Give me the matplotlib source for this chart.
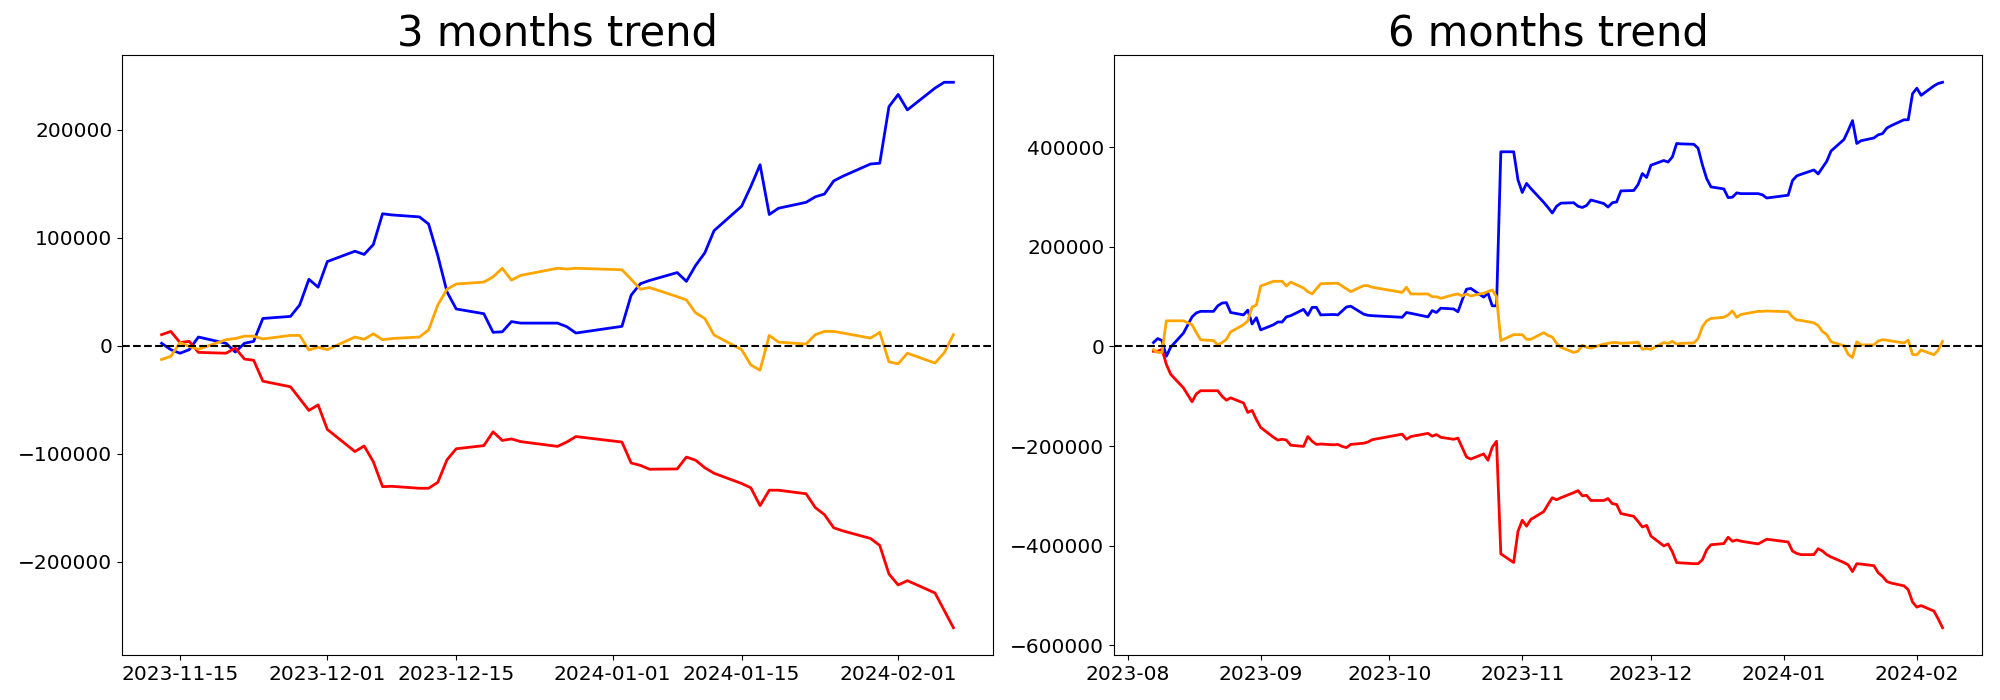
import matplotlib
matplotlib.use("Agg")
import matplotlib.pyplot as plt
import pandas as pd

# Trading calendar (KRX holidays excluded)
holidays = ['2023-08-15', '2023-09-28', '2023-09-29', '2023-10-02', '2023-10-03',
            '2023-10-09', '2023-12-25', '2023-12-29', '2024-01-01']
dates_6m = pd.bdate_range('2023-08-07', '2024-02-07', freq='C', holidays=holidays)
dates_3m = dates_6m[dates_6m >= pd.Timestamp('2023-11-13')]

# ---- 3 months trend (cumulative) ----
blue_3m = [2200, -3700, -7000, -3700, 8000,
           2200, -5900, 2200, 4000, 25200,
           27100, 37700, 61500, 54200, 77900,
           87500, 84500, 93700, 122200, 121100,
           119300, 112700, 83400, 49800, 34000,
           29600, 12400, 12800, 22300, 20900,
           20900, 17600, 11700,
           17900, 46800, 57400, 60400,
           67700, 59600, 74300, 86000, 106500,
           129200, 147500, 167600, 121500, 127300,
           132800, 137900, 140500, 152600, 157000,
           168300, 169000, 221400, 232700, 218400,
           238600, 244000, 244000]
red_3m = [10200, 13200, 2900, 4000, -6200,
          -7000, -2200, -12400, -13500, -32900,
          -38100, -49000, -60000, -54900, -77600,
          -98100, -92900, -107600, -130600, -130300,
          -132100, -132100, -126600, -105700, -95500,
          -92600, -79800, -87800, -86400, -88900,
          -93300, -89300, -84200,
          -89300, -108700, -110900, -114500,
          -114200, -103200, -106100, -113100, -118200,
          -127700, -131700, -148200, -133900, -133900,
          -137200, -150000, -156600, -168700, -171600,
          -178600, -185100, -211500, -221700, -217700,
          -229100, -245200, -261300]
orange_3m = [-12800, -9900, 2900, -700, -3300,
             5500, 6600, 8800, 8800, 6200,
             9500, 9500, -4000, -1500, -3700,
             8000, 5900, 11000, 5500, 6600,
             8000, 14600, 37700, 52300, 57100,
             58900, 63700, 71700, 60700, 65100,
             71700, 71000, 71700,
             70300, 61500, 52300, 53800,
             45400, 42400, 30400, 25200, 9900,
             -3700, -17900, -22700, 9500, 3300,
             1500, 10200, 13200, 13200, 11700,
             7000, 12400, -15000, -16800, -7000,
             -16100, -6600, 10200]

# ---- 6 months trend (cumulative) ----
blue_6m = [7900, 15900, 11900, -19800, -1600,
           27000, 59500, 67500, 70600,
           70600, 81700, 87300, 88100, 68300,
           63500, 73000, 45200, 57900, 33300,
           43700, 49200, 49200, 59500, 61900,
           74600, 62700, 78600, 78600, 63500,
           64300, 63500, 71400, 79400, 81000,
           65100, 62700, 61900,
           58700, 68300, 66700,
           59500, 72200, 68300, 77000,
           75400, 69800, 93700, 115100, 116700,
           99200, 107100, 81700, 81700, 391300,
           391300, 334900, 309500, 327800, 317500,
           289700, 279400, 268300, 281800, 288100,
           288900, 281800, 279400, 283400, 294500,
           287300, 280200, 288900, 290500, 312700,
           313500, 325400, 347600, 339700, 364300,
           373800, 370700, 381000, 408000, 407200,
           406400, 398400, 365100, 337300, 320700,
           316700, 299200, 300000, 308700, 307200,
           307200, 304800, 298400,
           304000, 333400, 342900, 346000,
           354800, 346800, 359500, 372200, 392900,
           415900, 434200, 454000, 408000, 413500,
           419100, 425400, 427800, 438900, 443700,
           455600, 455600, 508000, 519100, 504800,
           523800, 528600, 531000]
red_6m = [-9500, -9500, -5600, -35700, -55600,
          -83300, -111100, -95200, -88900,
          -88900, -88900, -100000, -107900, -103200,
          -113500, -132500, -128600, -146800, -162700,
          -182500, -188100, -186500, -188100, -198400,
          -200800, -181000, -190500, -196800, -196000,
          -197600, -196800, -200800, -203200, -196800,
          -194400, -192100, -187300,
          -176200, -186500, -181000,
          -174600, -180200, -177000, -182500,
          -186500, -184100, -203200, -222200, -226200,
          -215900, -228600, -202400, -190500, -416700,
          -434200, -371500, -349200, -361100, -347600,
          -331800, -317500, -304000, -308000, -304000,
          -293700, -289700, -300000, -299200, -309500,
          -309500, -305600, -315900, -317500, -335700,
          -341300, -351600, -362700, -359500, -381000,
          -400800, -396800, -412700, -434200, -434900,
          -436500, -436500, -428600, -408700, -398400,
          -396100, -383400, -391300, -388900, -391300,
          -396800, -392100, -387300,
          -392900, -411100, -415900, -418300,
          -418300, -406400, -411100, -418300, -423000,
          -434200, -438900, -452400, -436500, -437300,
          -440500, -454800, -461900, -472200, -475400,
          -481000, -488900, -513500, -523800, -520700,
          -531800, -547700, -565200]
orange_6m = [-6300, -11900, -11900, 51600, 51600,
             51600, 43700, 27800, 13500,
             11900, 3200, 7900, 14300, 29400,
             43700, 51600, 79400, 83300, 121400,
             131000, 131000, 131000, 121400, 129400,
             117500, 110000, 105600, 115900, 126200,
             127000, 127000, 121400, 115900, 110300,
             122200, 122200, 119100,
             108700, 119100, 105600,
             105600, 100000, 100000, 96800,
             104000, 105600, 101600, 105600, 101600,
             107100, 110300, 113500, 100000, 11900,
             23800, 23800, 23800, 14300, 14500,
             27800, 22200, 19000, 6300, -1600,
             -11900, -9500, 2400, -1600, -3200,
             4800, 6300, 7900, 7900, 6300,
             7900, 8700, -5600, -4000, -5600,
             7900, 6300, 10300, 4800, 6300,
             7100, 15900, 39700, 51600, 56400,
             58700, 63500, 71400, 58700, 64300,
             70600, 70600, 71400,
             69800, 59500, 53200, 52400,
             47600, 42100, 30200, 23800, 9500,
             1600, -15900, -22200, 9500, 3200,
             3200, 11100, 13500, 12700, 11100,
             7100, 12700, -15900, -16700, -7100,
             -16700, -7100, 10300]

titles = ['3 months trend', '6 months trend']
series_colors = ['blue', 'red', 'orange']

fig = plt.figure(figsize=(20, 7), dpi=100)
ax1 = fig.add_axes([122 / 2000, 45 / 700, (993 - 122) / 2000, 600 / 700])
ax2 = fig.add_axes([1114 / 2000, 45 / 700, (1982 - 1114) / 2000, 600 / 700])

panels = [
    (ax1, dates_3m, [blue_3m, red_3m, orange_3m], titles[0]),
    (ax2, dates_6m, [blue_6m, red_6m, orange_6m], titles[1]),
]
for ax, dts, series, title in panels:
    for vals, col in zip(series, series_colors):
        ax.plot(dts, vals, color=col, linewidth=2)
    ax.axhline(0, color='black', linestyle='--', linewidth=1.5)
    ax.set_title(title, fontsize=30)
    ax.tick_params(axis='both', labelsize=14.5)

fig.savefig('out.png', dpi=100)
